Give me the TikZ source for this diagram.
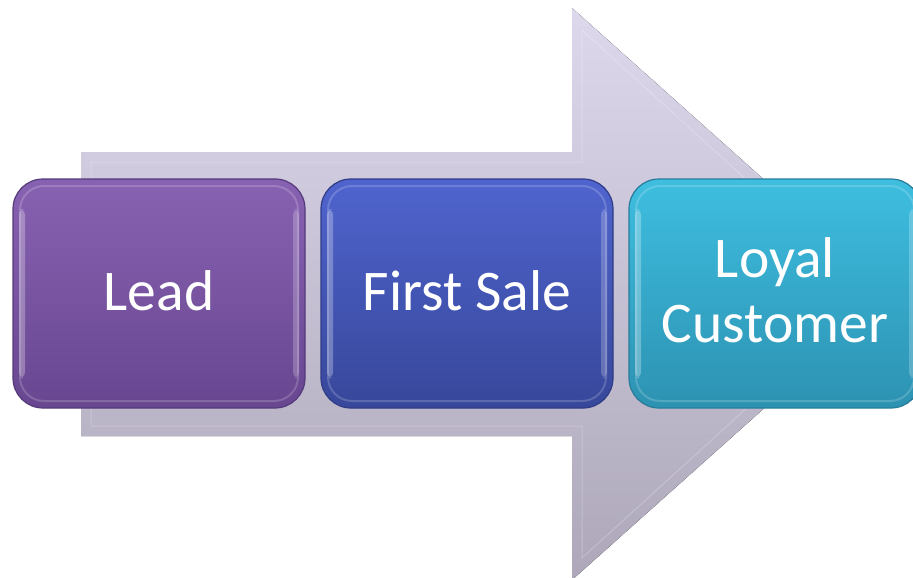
\documentclass[tikz,border=0pt]{standalone}
\usepackage{fontspec}
\setmainfont{Carlito}
\definecolor{arrowtop}{HTML}{DDD8EC}
\definecolor{arrowbot}{HTML}{ADA7B9}
\definecolor{leadtop}{HTML}{8862B2}
\definecolor{leadbot}{HTML}{684690}
\definecolor{leadrim}{HTML}{553A7C}
\definecolor{saletop}{HTML}{4F64CE}
\definecolor{salebot}{HTML}{37479A}
\definecolor{salerim}{HTML}{2F3C86}
\definecolor{loyaltop}{HTML}{3EBEE0}
\definecolor{loyalbot}{HTML}{2D92B2}
\definecolor{loyalrim}{HTML}{287C9A}
\begin{document}
\begin{tikzpicture}[x=1pt,y=-1pt,
  stagebox/.style n args={3}{
    draw=#3, line width=1.2pt, top color=#1, bottom color=#2,
    rounded corners=30pt, minimum width=292pt, minimum height=229pt,
    text=white, align=center, inner sep=0pt, text depth=6pt,
    font=\fontsize{57.5}{65}\selectfont,
    path picture={
      % soft inner rim
      \draw[white, opacity=0.18, line width=2pt, rounded corners=24pt]
        ([shift={(7pt,-7pt)}]path picture bounding box.north west) rectangle
        ([shift={(-7pt,7pt)}]path picture bounding box.south east);
      % glossy side highlights
      \fill[white, opacity=0.28, rounded corners=6pt]
        ([shift={(6pt,-30pt)}]path picture bounding box.north west) rectangle
        ([shift={(12pt,30pt)}]path picture bounding box.south west);
      \fill[white, opacity=0.22, rounded corners=6pt]
        ([shift={(-12pt,-30pt)}]path picture bounding box.north east) rectangle
        ([shift={(-6pt,30pt)}]path picture bounding box.south east);
    }},
  bevel/.style={white, opacity=0.22, line width=1pt}]
\useasboundingbox (0,0) rectangle (913,578);

% large background arrow
\fill[top color=arrowtop, bottom color=arrowbot]
  (81,152) -- (572,152) -- (572,8) -- (892,294) -- (572,580)
  -- (572,436) -- (81,436) -- cycle;
\draw[bevel] (91,162) -- (582,162) -- (582,30) -- (872,294)
  -- (582,558) -- (582,426) -- (91,426) -- cycle;

% the three stages
\node[stagebox={leadtop}{leadbot}{leadrim}] (lead) at (159,293.5) {Lead};
\node[stagebox={saletop}{salebot}{salerim}] (sale) at (467,293.5) {First Sale};
\node[stagebox={loyaltop}{loyalbot}{loyalrim}] (loyal) at (775,293.5) {Loyal\\Customer};
\end{tikzpicture}
\end{document}
